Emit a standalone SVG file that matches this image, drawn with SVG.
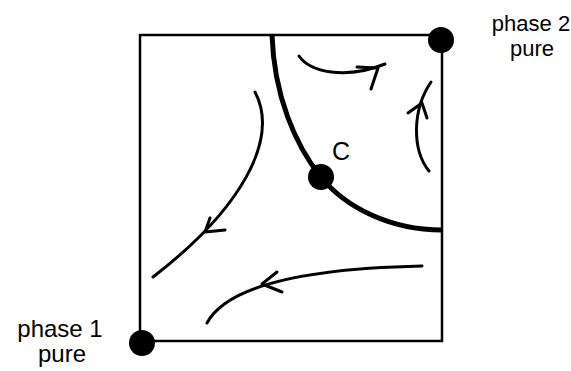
<svg xmlns="http://www.w3.org/2000/svg" width="571" height="371" viewBox="0 0 571 371">
<style>
.lbl{font-family:"Liberation Sans",Arial,sans-serif;font-size:24px;fill:#000}
.flow{fill:none;stroke:#000;stroke-width:3;stroke-linecap:round;stroke-linejoin:round}
.box{fill:none;stroke:#000;stroke-width:2.5}
.sep{fill:none;stroke:#000;stroke-width:5}
.dot{fill:#000}
</style>
<rect width="571" height="371" fill="#fff"/>
<g id="frame"><rect class="box" x="140" y="35" width="302" height="306"/></g>
<g id="separatrix"><path class="sep" d="M272,35 C274,95 295,145 321,177 C345,207 390,230 442,230"/></g>
<g id="connectors">
<path class="flow" d="M299,56 C310,72 345,80 385,64"/>
<path class="flow" d="M357,67 L378,68 L371,89"/>
<path class="flow" d="M429,171 C412,150 412,110 431,82"/>
<path class="flow" d="M408,113 L422,103 L427,118"/>
<path class="flow" d="M255,92 C280,140 240,210 153,277"/>
<path class="flow" d="M210,218 L205,232 L225,230"/>
<path class="flow" d="M422,266 C330,268 230,280 207,323"/>
<path class="flow" d="M277,272 L262,284 L282,292"/>
</g>
<g id="node-c"><circle class="dot" cx="321" cy="177" r="13"/><text class="lbl" x="332" y="160" style="font-size:25px">C</text></g>
<g id="node-phase2"><circle class="dot" cx="441" cy="40" r="13"/><text class="lbl" x="531" y="31" text-anchor="middle" style="font-size:22px">phase 2</text><text class="lbl" x="532" y="56" text-anchor="middle" style="font-size:22px">pure</text></g>
<g id="node-phase1"><circle class="dot" cx="142" cy="343" r="13"/><text class="lbl" x="60" y="337" text-anchor="middle">phase 1</text><text class="lbl" x="62" y="362" text-anchor="middle">pure</text></g>
</svg>
